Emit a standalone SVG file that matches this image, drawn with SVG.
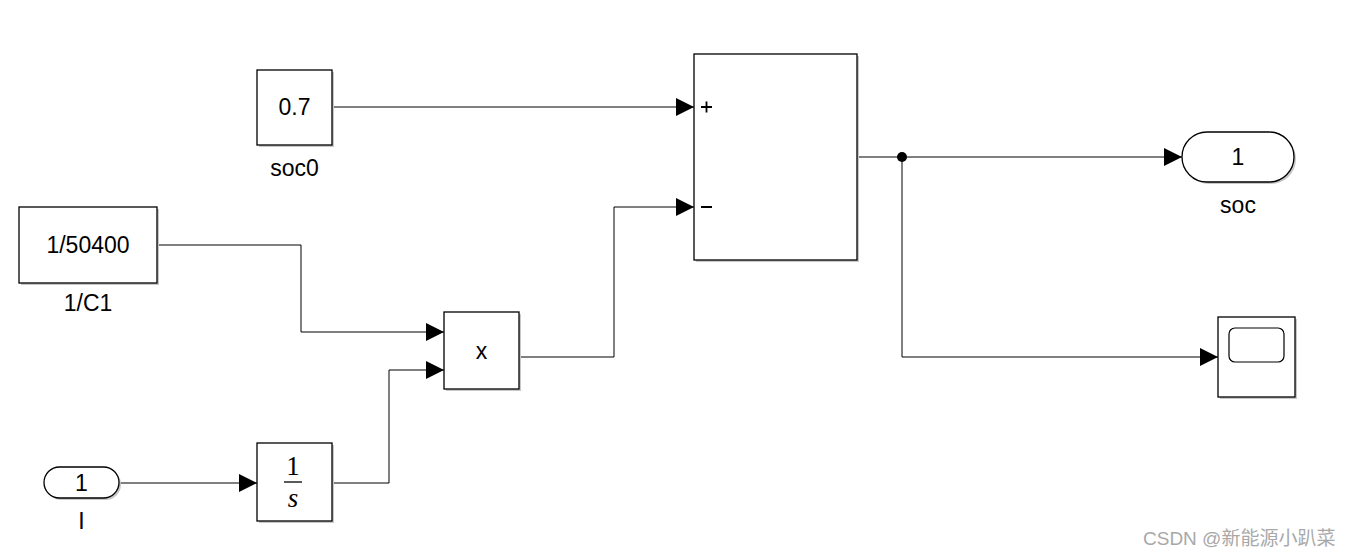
<svg xmlns="http://www.w3.org/2000/svg" width="1350" height="556" viewBox="0 0 1350 556">
<style>
.blk{fill:#fff;stroke:#000;stroke-width:1.3}
.sh{fill:#c8c8c8}
.ln{fill:none;stroke:#000;stroke-width:1}
.t{font-family:"Liberation Sans",Arial,sans-serif;font-size:23px;fill:#000;text-anchor:middle}
.wm{font-family:"Liberation Sans","Noto Sans CJK SC",sans-serif;font-size:19px;fill:#a8a8a8}
</style>
<defs>
<marker id="ar" markerWidth="18" markerHeight="18" refX="18" refY="9" orient="auto" markerUnits="userSpaceOnUse">
<path d="M0,0 L18,9 L0,18 Z" fill="#000"/>
</marker>
</defs>
<rect width="1350" height="556" fill="#fff"/>
<g id="connectors">
<path class="ln" d="M332,107 H694" marker-end="url(#ar)"/>
<path class="ln" d="M157,245 H301 V332 H444" marker-end="url(#ar)"/>
<path class="ln" d="M332,483 H389 V370 H444" marker-end="url(#ar)"/>
<path class="ln" d="M519,357 H614 V207 H694" marker-end="url(#ar)"/>
<path class="ln" d="M857,157 H1182" marker-end="url(#ar)"/>
<path class="ln" d="M902,157 V357 H1218" marker-end="url(#ar)"/>
<path class="ln" d="M119,483 H257" marker-end="url(#ar)"/>
<circle cx="902" cy="157" r="5" fill="#000"/>
</g>
<g id="soc0">
<rect class="sh" x="259" y="72" width="75" height="75"/>
<rect class="blk" x="257" y="70" width="75" height="75"/>
<text class="t" x="294.5" y="115">0.7</text>
<text class="t" x="294.5" y="176">soc0</text>
</g>
<g id="C1">
<rect class="sh" x="21" y="209" width="138" height="76"/>
<rect class="blk" x="19" y="207" width="138" height="76"/>
<text class="t" x="88" y="253">1/50400</text>
<text class="t" x="88" y="311">1/C1</text>
</g>
<g id="sum">
<rect class="sh" x="696" y="56" width="163" height="206"/>
<rect class="blk" x="694" y="54" width="163" height="206"/>
<path d="M701,107 H712 M706.5,101.5 V112.5 M701,207 H712" stroke="#000" stroke-width="1.8"/>
</g>
<g id="product">
<rect class="sh" x="446" y="314" width="75" height="77"/>
<rect class="blk" x="444" y="312" width="75" height="77"/>
<text class="t" x="481.5" y="359">x</text>
</g>
<g id="integrator">
<rect class="sh" x="259" y="445" width="75" height="78"/>
<rect class="blk" x="257" y="443" width="75" height="78"/>
<text x="293" y="475" font-family="'Liberation Serif',serif" font-size="27" text-anchor="middle">1</text>
<line x1="284" y1="482" x2="302" y2="482" stroke="#000" stroke-width="1.3"/>
<text x="293" y="507" font-family="'Liberation Serif',serif" font-size="27" font-style="italic" text-anchor="middle">s</text>
</g>
<g id="inport">
<rect class="sh" x="46" y="469" width="75" height="31" rx="15.5"/>
<rect class="blk" x="44" y="467" width="75" height="31" rx="15.5"/>
<text class="t" x="81.5" y="491">1</text>
<text class="t" x="81.5" y="529">I</text>
</g>
<g id="outport">
<rect class="sh" x="1184" y="134" width="112" height="50" rx="25"/>
<rect class="blk" x="1182" y="132" width="112" height="50" rx="25"/>
<text class="t" x="1238" y="165">1</text>
<text class="t" x="1238" y="213">soc</text>
</g>
<g id="scope">
<rect class="sh" x="1220" y="319" width="77" height="80"/>
<rect class="blk" x="1218" y="317" width="77" height="80"/>
<rect x="1229" y="328" width="55" height="34" rx="6" fill="#fff" stroke="#000" stroke-width="1.2"/>
</g>
<text class="wm" x="1143" y="545">CSDN @新能源小趴菜</text>
</svg>
